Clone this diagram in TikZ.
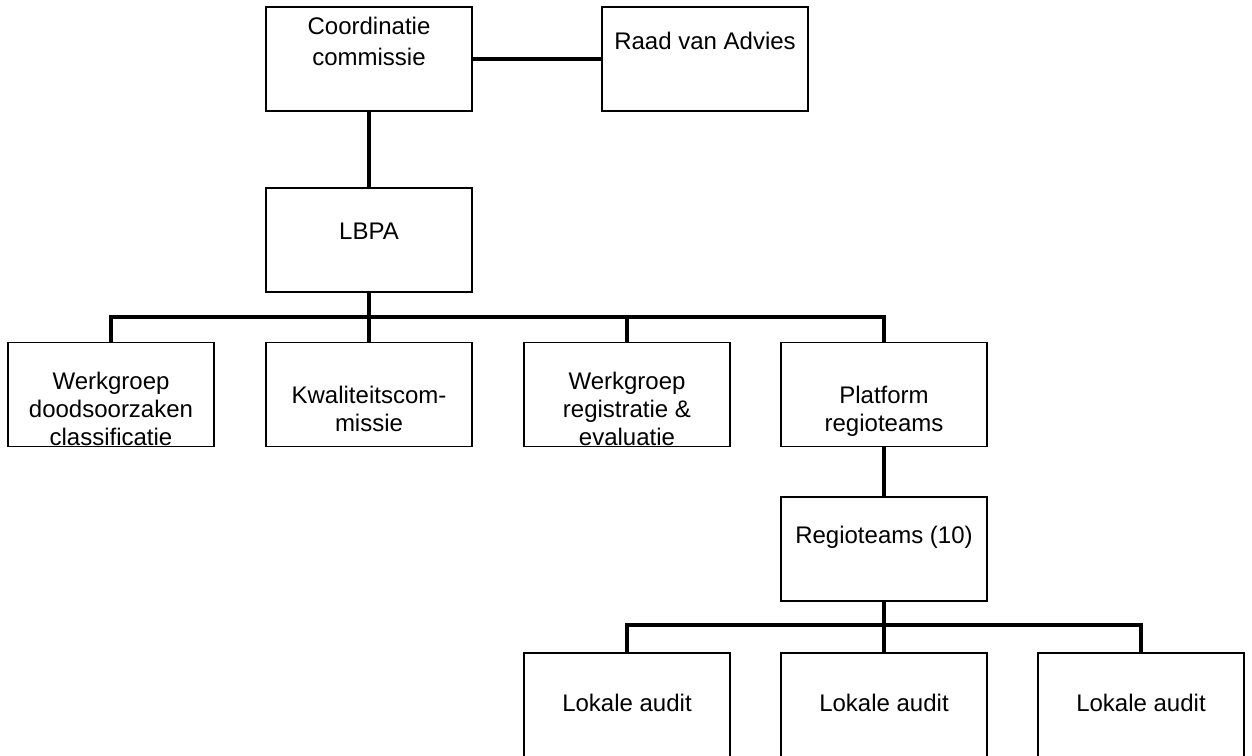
\documentclass[tikz,border=0pt]{standalone}
\usepackage{fontspec}
\setmainfont{Liberation Sans}
\begin{document}
\begin{tikzpicture}[x=1pt,y=-1pt,
  box/.style={draw, line width=1.6pt, minimum width=206pt, minimum height=104pt, inner sep=0pt, outer sep=0pt},
  txt/.style={font=\fontsize{24}{28}\selectfont, align=center, inner sep=0pt, anchor=north},
  conn/.style={line width=3.5pt}]
\clip (0,0) rectangle (1252,755);
\fill[white] (0,0) rectangle (1252,755);
% boxes
\node[box] (coord) at (369,59) {};
\node[box] (raad) at (705,59) {};
\node[box] (lbpa) at (369,240) {};
\node[box] (w1) at (111,394.5) {};
\node[box] (w2) at (369,394.5) {};
\node[box] (w3) at (627,394.5) {};
\node[box] (w4) at (884,394.5) {};
\node[box] (regio) at (884,549) {};
\node[box] (l1) at (627,705) {};
\node[box] (l2) at (884,705) {};
\node[box] (l3) at (1141,705) {};
% connectors
\coordinate (bus1) at (0,317);
\coordinate (bus2) at (0,625);
\draw[conn] (coord.east) -- (raad.west);
\draw[conn] (coord.south) -- (lbpa.north);
\draw[conn] (lbpa.south) -- (lbpa.south |- bus1);
\draw[conn] (w1.north) -- (w1.north |- bus1) -- (w4.north |- bus1) -- (w4.north);
\draw[conn] (w2.north) -- (w2.north |- bus1);
\draw[conn] (w3.north) -- (w3.north |- bus1);
\draw[conn] (w4.south) -- (regio.north);
\draw[conn] (regio.south) -- (regio.south |- bus2);
\draw[conn] (l1.north) -- (l1.north |- bus2) -- (l3.north |- bus2) -- (l3.north);
\draw[conn] (l2.north) -- (l2.north |- bus2);
% texts
\node[txt, font=\fontsize{24}{31}\selectfont] (coordT) at (369,17) {Coordinatie\\commissie};
\node[txt] (raadT) at (705,32) {Raad van Advies};
\node[txt] (lbpaT) at (369,223) {LBPA};
\begin{scope}
\clip (w1.south west) rectangle (w1.north east);
\node[txt] (w1T) at (111,372) {Werkgroep\\doodsoorzaken\\classificatie};
\end{scope}
\node[txt] (w2T) at (369,386) {Kwaliteitscom-\\missie};
\begin{scope}
\clip (w3.south west) rectangle (w3.north east);
\node[txt] (w3T) at (627,372) {Werkgroep\\registratie \&\\evaluatie};
\end{scope}
\node[txt] (w4T) at (884,386) {Platform\\regioteams};
\node[txt] (regioT) at (884,526) {Regioteams (10)};
\node[txt] (l1T) at (627,694) {Lokale audit};
\node[txt] (l2T) at (884,694) {Lokale audit};
\node[txt] (l3T) at (1141,694) {Lokale audit};
\end{tikzpicture}
\end{document}
